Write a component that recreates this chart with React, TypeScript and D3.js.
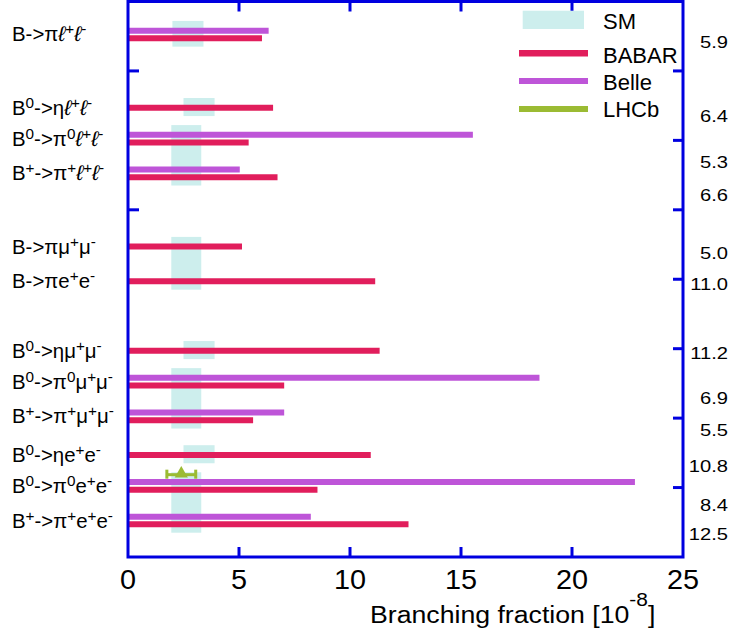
import React from "react";
import * as d3 from "d3";

const W = 731;
const H = 636;
const FONT = "'Liberation Sans', Arial, Helvetica, sans-serif";

// Decay channels, top to bottom ("^x" marks a superscript character)
const decays = [
  "B->πℓ^+ℓ^-",
  "B^0->ηℓ^+ℓ^-",
  "B^0->π^0ℓ^+ℓ^-",
  "B^+->π^+ℓ^+ℓ^-",
  "B->πμ^+μ^-",
  "B->πe^+e^-",
  "B^0->ημ^+μ^-",
  "B^0->π^0μ^+μ^-",
  "B^+->π^+μ^+μ^-",
  "B^0->ηe^+e^-",
  "B^0->π^0e^+e^-",
  "B^+->π^+e^+e^-",
];
// Row of each channel on the vertical axis (axis units 0..8, top to bottom)
const rowPos = [0.5, 1.5, 2.0, 2.5, 3.5, 4.0, 5.0, 5.5, 6.0, 6.5, 7.0, 7.5];

// Branching-fraction upper limits [10^-8]
const babar = [5.9, 6.4, 5.3, 6.6, 5.0, 11.0, 11.2, 6.9, 5.5, 10.8, 8.4, 12.5];
const belle: (number | null)[] = [6.2, null, 15.4, 4.9, null, null, null, 18.4, 6.9, null, 22.7, 8.1];
// Where the BABAR numbers are printed on the right-hand side (axis units)
const babarLabelPos = [0.59, 1.66, 2.31, 2.79, 3.63, 4.08, 5.07, 5.72, 6.18, 6.69, 7.26, 7.68];

// LHCb measurement
const lhcbRow = 10;
const lhcbValue = 2.4;
const lhcbErr = 0.65;

// Standard Model prediction bands: value range and first/last channel covered
const smLow = [2.0, 2.5, 1.95, 1.95, 2.5, 1.95, 2.5, 1.95];
const smHigh = [3.4, 3.9, 3.3, 3.3, 3.9, 3.3, 3.9, 3.3];
const smFirst = [0, 1, 2, 4, 6, 7, 9, 10];
const smLast = [0, 1, 3, 5, 6, 8, 9, 11];

const xTicks = [0, 5, 10, 15, 20, 25];

const COLORS = {
  axis: "#0000e0",
  babar: "#e11e5c",
  belle: "#be55d8",
  lhcb: "#9bbb33",
  sm: "#cdeeed",
};

type Part = { t: string; sup: boolean; ell: boolean };

function parseLabel(s: string): Part[] {
  const parts: Part[] = [];
  let buf = "";
  const flush = () => {
    if (buf) parts.push({ t: buf, sup: false, ell: false });
    buf = "";
  };
  for (let i = 0; i < s.length; i++) {
    const c = s[i];
    if (c === "^") {
      flush();
      parts.push({ t: s[i + 1], sup: true, ell: false });
      i++;
    } else if (c === "ℓ") {
      flush();
      parts.push({ t: c, sup: false, ell: true });
    } else {
      buf += c;
    }
  }
  flush();
  return parts;
}

export default function App() {
  const plot = { left: 128, right: 683, top: 1.5, bottom: 557 };
  const x = d3.scaleLinear().domain([0, 25]).range([plot.left, plot.right]);
  const y = d3.scaleLinear().domain([0, 8]).range([plot.top, plot.bottom]);

  const redOff = 0.03;
  const purpleOff = -0.08;
  const lhcbOff = -0.2;

  const barW = 6;
  const tickLen = 10;

  const topBarRow = (i: number) => rowPos[i] + (belle[i] != null ? purpleOff : redOff);

  const triangle = d3.symbol(d3.symbolTriangle, 75)();

  const lhcbY = y(rowPos[lhcbRow] + lhcbOff);

  return (
    <svg width={W} height={H} style={{ display: "block", position: "absolute", left: 0, top: 0 }} fontFamily={FONT}>
      <defs>
        <clipPath id="plotArea">
          <rect x={plot.left} y={plot.top} width={plot.right - plot.left} height={plot.bottom - plot.top} />
        </clipPath>
      </defs>
      <rect width={W} height={H} fill="#fff" />

      {/* SM bands */}
      {smLow.map((lo, k) => {
        const y0 = y(topBarRow(smFirst[k]) - 0.14);
        const y1 = y(rowPos[smLast[k]] + redOff + 0.12);
        return (
          <rect key={`sm${k}`} x={x(lo)} y={y0} width={x(smHigh[k]) - x(lo)} height={y1 - y0} fill={COLORS.sm} />
        );
      })}

      {/* Upper-limit bars */}
      <g clipPath="url(#plotArea)">
        {belle.map((v, i) =>
          v == null ? null : (
            <line
              key={`be${i}`}
              x1={x(0)}
              x2={x(v)}
              y1={y(rowPos[i] + purpleOff)}
              y2={y(rowPos[i] + purpleOff)}
              stroke={COLORS.belle}
              strokeWidth={barW}
              strokeLinecap="square"
            />
          )
        )}
        {babar.map((v, i) => (
          <line
            key={`ba${i}`}
            x1={x(0)}
            x2={x(v)}
            y1={y(rowPos[i] + redOff)}
            y2={y(rowPos[i] + redOff)}
            stroke={COLORS.babar}
            strokeWidth={barW}
            strokeLinecap="square"
          />
        ))}
      </g>

      {/* LHCb point with error bar */}
      <g stroke={COLORS.lhcb} strokeWidth={3}>
        <line x1={x(lhcbValue - lhcbErr)} x2={x(lhcbValue + lhcbErr)} y1={lhcbY + 1} y2={lhcbY + 1} />
        <line x1={x(lhcbValue - lhcbErr)} x2={x(lhcbValue - lhcbErr)} y1={lhcbY - 4} y2={lhcbY + 5} />
        <line x1={x(lhcbValue + lhcbErr)} x2={x(lhcbValue + lhcbErr)} y1={lhcbY - 4} y2={lhcbY + 5} />
      </g>
      <path d={triangle ?? ""} transform={`translate(${x(lhcbValue)},${lhcbY})`} fill={COLORS.lhcb} />

      {/* Frame */}
      <rect
        x={plot.left}
        y={plot.top}
        width={plot.right - plot.left}
        height={plot.bottom - plot.top}
        fill="none"
        stroke={COLORS.axis}
        strokeWidth={3}
      />
      {/* x ticks, top and bottom, pointing inward */}
      {xTicks.slice(1, -1).map((t) => (
        <g key={`xt${t}`} stroke={COLORS.axis} strokeWidth={3}>
          <line x1={x(t)} x2={x(t)} y1={plot.bottom} y2={plot.bottom - tickLen} />
          <line x1={x(t)} x2={x(t)} y1={plot.top} y2={plot.top + tickLen} />
        </g>
      ))}
      {/* y ticks */}
      {[1, 3].map((t) => (
        <line key={`yl${t}`} x1={plot.left} x2={plot.left + tickLen + 1} y1={y(t)} y2={y(t)} stroke={COLORS.axis} strokeWidth={3} />
      ))}
      {[1, 2, 3, 4, 5, 6, 7].map((t) => (
        <line key={`yr${t}`} x1={plot.right} x2={plot.right - tickLen} y1={y(t)} y2={y(t)} stroke={COLORS.axis} strokeWidth={3} />
      ))}

      {/* x tick labels */}
      {xTicks.map((t) => (
        <text
          key={`xl${t}`}
          transform={`translate(${x(t)},589) scale(1.03,1)`}
          textAnchor="middle"
          fontSize={28}
          fill="#000"
        >
          {t}
        </text>
      ))}

      {/* x axis title */}
      <text transform="translate(370,623) scale(1.16,1)" fontSize={23} fill="#000">
        <tspan y={0}>Branching fraction [10</tspan>
        <tspan y={-17} fontSize={18}>-8</tspan>
        <tspan y={0}>]</tspan>
      </text>

      {/* Channel labels */}
      {decays.map((d, i) => {
        const center =
          belle[i] != null ? y(rowPos[i] + (redOff + purpleOff) / 2) : y(rowPos[i] + redOff);
        const parts = parseLabel(d);
        return (
          <text key={`lab${i}`} transform={`translate(12,${center + 7}) scale(1.02,1)`} fontSize={20} fill="#000">
            {parts.map((p, j) => (
              <tspan
                key={j}
                y={p.sup ? -7 : 0}
                fontSize={p.sup ? 15 : p.ell ? 21 : 20}
                fontStyle={p.ell ? "italic" : undefined}
              >
                {p.t}
              </tspan>
            ))}
          </text>
        );
      })}

      {/* BABAR values on the right */}
      {babar.map((v, i) => (
        <text
          key={`val${i}`}
          transform={`translate(728,${y(babarLabelPos[i]) + 5.6}) scale(1.26,1)`}
          textAnchor="end"
          fontSize={16}
          fill="#000"
        >
          {v.toFixed(1)}
        </text>
      ))}

      {/* Legend */}
      <g>
        <rect x={522.7} y={10.7} width={61.3} height={18.3} fill={COLORS.sm} />
        <text x={603} y={29} fontSize={22} fill="#000">SM</text>
        <line x1={519} x2={588} y1={53.3} y2={53.3} stroke={COLORS.babar} strokeWidth={6.5} />
        <text x={603} y={63.3} fontSize={22} fill="#000">BABAR</text>
        <line x1={519} x2={588} y1={81} y2={81} stroke={COLORS.belle} strokeWidth={6} />
        <text x={603} y={90} fontSize={22} fill="#000">Belle</text>
        <line x1={519} x2={588} y1={109} y2={109} stroke={COLORS.lhcb} strokeWidth={6} />
        <text x={603} y={117} fontSize={22} fill="#000">LHCb</text>
      </g>
    </svg>
  );
}
